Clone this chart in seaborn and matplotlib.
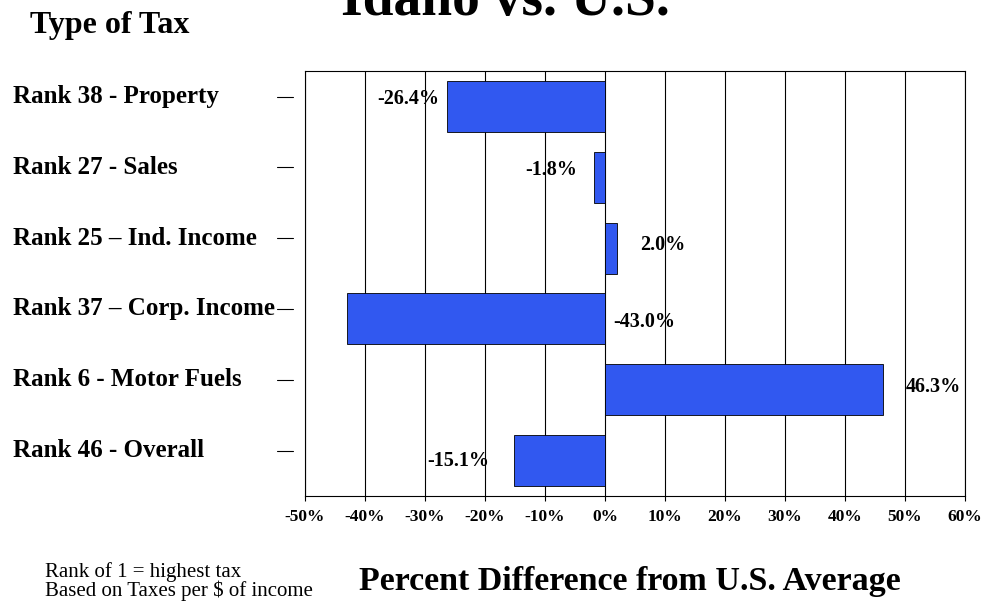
import numpy as np
import pandas as pd
import seaborn as sns
import matplotlib.pyplot as plt
from matplotlib.transforms import blended_transform_factory

sns.set_style('white')
plt.rcParams['font.family'] = ['Liberation Serif', 'DejaVu Serif']
plt.rcParams['text.color'] = 'black'
plt.rcParams['xtick.color'] = 'black'
plt.rcParams['ytick.color'] = 'black'

# data
taxes = ["Rank 38 - Property", "Rank 27 - Sales", "Rank 25 \u2013 Ind. Income",
         "Rank 37 \u2013 Corp. Income", "Rank 6 - Motor Fuels", "Rank 46 - Overall"]
pct_diff = [-26.4, -1.8, 2.0, -43.0, 46.3, -15.1]
xticks = list(range(-50, 61, 10))

# label placement (points offset from bar end, or from zero for "base")
label_anchor = ["end", "end", "end", "base", "end", "end"]
label_dx = [-5, -12, 16.5, 5.8, 16.5, -18]
label_dy = [5, 5.4, 2.5, -2, 1.8, 0]

df = pd.DataFrame({"tax": taxes, "diff": pct_diff})

fig = plt.figure(figsize=(9.84, 6.03), dpi=100)
ax = fig.add_axes([305 / 984, 1 - 496 / 603, 660 / 984, 425 / 603])

ax.set_axisbelow(True)
for xv in xticks:
    ax.axvline(xv, color='black', lw=0.8, zorder=0)

sns.barplot(data=df, x="diff", y="tax", orient="h", color="#3158F0",
            saturation=1, width=0.72, edgecolor="black", linewidth=0.6, ax=ax)

ax.set_xlim(-50, 60)
ax.set_ylim(len(taxes) - 0.5, -0.5)
ax.set_xticks(xticks)
ax.set_xticklabels([f"{v}%" for v in xticks], fontsize=12.5, fontweight='bold')
ax.tick_params(axis='x', direction='out', length=3.6, width=0.8, pad=6, bottom=True,
               colors='black')
ax.set_yticks([])
ax.set_xlabel("")
ax.set_ylabel("")
for s in ax.spines.values():
    s.set_visible(True)
    s.set_color('black')
    s.set_linewidth(0.8)

# category labels and the little dashes to the left of the axis
trans_lab = blended_transform_factory(fig.transFigure, ax.transData)
trans_dash = blended_transform_factory(ax.transAxes, ax.transData)
for i, name in enumerate(taxes):
    fig.text(13 / 984, i - 0.05, name, transform=trans_lab, ha='left', va='baseline',
             fontsize=18, fontweight='bold')
    ax.plot([-28 / 660, -12 / 660], [i - 0.14, i - 0.14], color='black', lw=0.8,
            transform=trans_dash, clip_on=False)

# value labels
for i, v in enumerate(pct_diff):
    x0 = v if label_anchor[i] == "end" else 0
    ha = 'left' if label_dx[i] > 0 else 'right'
    ax.annotate(f"{v:.1f}%", xy=(x0, i), xytext=(label_dx[i], label_dy[i]),
                textcoords='offset points', ha=ha, va='center',
                fontsize=14.5, fontweight='bold')

fig.text(505 / 984, 1 - 15 / 603, "Idaho vs. U.S.", ha='center', va='baseline',
         fontsize=40, fontweight='bold')
fig.text(30 / 984, 1 - 33 / 603, "Type of Tax", ha='left', va='baseline',
         fontsize=23, fontweight='bold')
fig.text(630 / 984, 1 - 590 / 603, "Percent Difference from U.S. Average",
         ha='center', va='baseline', fontsize=24.5, fontweight='bold')
fig.text(45 / 984, 1 - 577 / 603, "Rank of 1 = highest tax", ha='left',
         va='baseline', fontsize=15)
fig.text(45 / 984, 1 - 596 / 603, "Based on Taxes per $ of income", ha='left',
         va='baseline', fontsize=15)

fig.savefig("out.png", dpi=100)
